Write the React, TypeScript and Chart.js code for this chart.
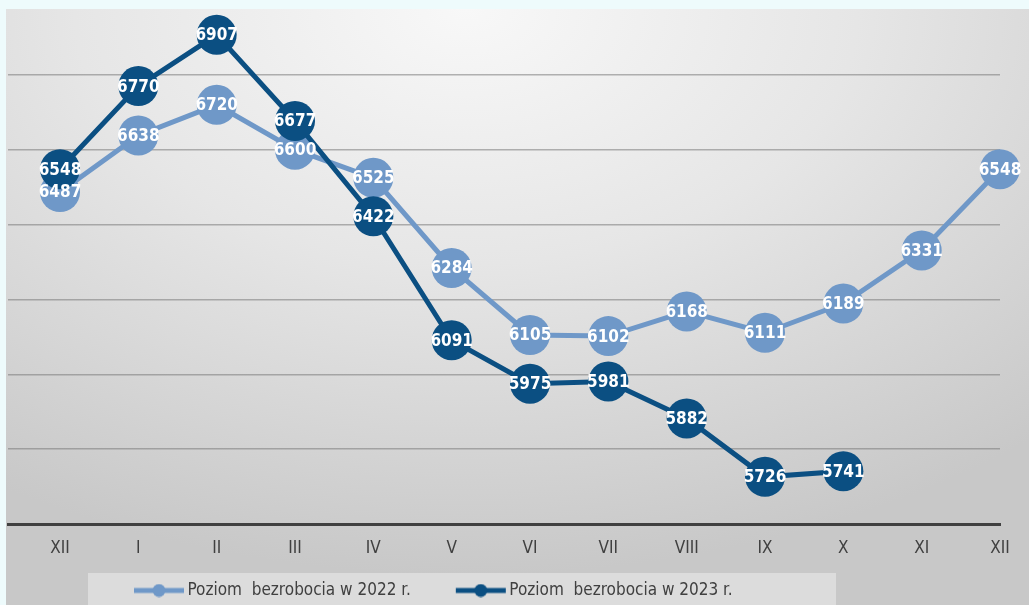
import React, { useEffect, useRef } from 'react';
import { Chart, registerables } from 'chart.js';

Chart.register(...registerables);

const months = ['XII', 'I', 'II', 'III', 'IV', 'V', 'VI', 'VII', 'VIII', 'IX', 'X', 'XI', 'XII'];
const values2022: (number | null)[] = [6487, 6638, 6720, 6600, 6525, 6284, 6105, 6102, 6168, 6111, 6189, 6331, 6548];
const values2023: (number | null)[] = [6548, 6770, 6907, 6677, 6422, 6091, 5975, 5981, 5882, 5726, 5741, null, null];
const seriesNames = ['Poziom  bezrobocia w 2022 r.', 'Poziom  bezrobocia w 2023 r.'];
const yMin = 5600;
const yMax = 6976;
const yStep = 200;

const LIGHT = '#6f98c8';
const DARK = '#0b4f82';
const FONT = "'DejaVu Sans Condensed', 'DejaVu Sans', sans-serif";
const LEGEND_PAD = 50;

function makeMarker(color: string): HTMLCanvasElement {
  const c = document.createElement('canvas');
  c.width = 52;
  c.height = 14;
  const g = c.getContext('2d')!;
  g.strokeStyle = color;
  g.lineWidth = 5;
  g.beginPath();
  g.moveTo(1, 7);
  g.lineTo(51, 7);
  g.stroke();
  g.fillStyle = color;
  g.beginPath();
  g.arc(26, 7, 6.5, 0, Math.PI * 2);
  g.fill();
  return c;
}

const valueLabels = {
  id: 'valueLabels',
  afterDatasetsDraw(chart: any) {
    const ctx = chart.ctx;
    ctx.save();
    ctx.font = `bold 17px ${FONT}`;
    ctx.fillStyle = '#ffffff';
    ctx.textAlign = 'center';
    ctx.textBaseline = 'middle';
    chart.data.datasets.forEach((ds: any, di: number) => {
      const meta = chart.getDatasetMeta(di);
      meta.data.forEach((el: any, i: number) => {
        const raw = ds.data[i];
        if (!raw || raw.y == null || el.skip) return;
        ctx.fillText(String(raw.y), el.x, el.y + 1);
      });
    });
    ctx.restore();
  },
};

const legendBox = {
  id: 'legendBox',
  beforeDraw(chart: any) {
    const lg = chart.legend;
    if (!lg) return;
    const ctx = chart.ctx;
    ctx.save();
    ctx.fillStyle = '#dcdcdc';
    ctx.fillRect(88, 573, 748, 32);
    ctx.restore();
    lg.left = 139 - LEGEND_PAD;
    lg.right = 1029;
    lg.width = lg.right - lg.left;
    lg.top = 582 - LEGEND_PAD;
  },
};

export default function App() {
  const ref = useRef<HTMLCanvasElement>(null);

  useEffect(() => {
    if (!ref.current) return;
    const toPoints = (arr: (number | null)[]) => arr.map((v, i) => ({ x: i, y: v }));
    const markers = [makeMarker(LIGHT), makeMarker(DARK)];
    const chart = new Chart(ref.current, {
      type: 'line',
      data: {
        datasets: [
          {
            label: seriesNames[0],
            data: toPoints(values2022) as any,
            borderColor: LIGHT,
            backgroundColor: LIGHT,
            pointBackgroundColor: LIGHT,
            pointBorderColor: LIGHT,
            borderWidth: 5,
            pointRadius: 20,
            pointHoverRadius: 20,
            pointBorderWidth: 0,
            tension: 0,
            clip: false as any,
            order: 1,
          },
          {
            label: seriesNames[1],
            data: toPoints(values2023) as any,
            borderColor: DARK,
            backgroundColor: DARK,
            pointBackgroundColor: DARK,
            pointBorderColor: DARK,
            borderWidth: 5,
            pointRadius: 20,
            pointHoverRadius: 20,
            pointBorderWidth: 0,
            tension: 0,
            spanGaps: false,
            clip: false as any,
            order: 0,
          },
        ],
      },
      options: {
        animation: false,
        responsive: false,
        devicePixelRatio: 1,
        layout: { autoPadding: false, padding: { left: 8, right: 29, top: 9, bottom: 0 } },
        plugins: {
          tooltip: { enabled: false },
          legend: {
            display: true,
            position: 'bottom',
            align: 'start',
            maxHeight: 32,
            labels: {
              color: '#404040',
              font: { family: FONT, size: 17 },
              usePointStyle: true,
              pointStyleWidth: 40,
              boxHeight: 14,
              padding: LEGEND_PAD,
              sort: (a: any, b: any) => a.datasetIndex - b.datasetIndex,
              generateLabels: (ch: any) => {
                const items = (Chart.defaults.plugins.legend.labels as any).generateLabels(ch);
                return items.map((it: any) => ({ ...it, pointStyle: markers[it.datasetIndex], lineWidth: 0 }));
              },
            },
          },
        },
        scales: {
          x: {
            type: 'linear',
            min: -0.664,
            max: 12,
            grid: { display: false, drawTicks: false },
            border: { display: true, color: '#404040', width: 3 },
            ticks: {
              stepSize: 1,
              padding: 14,
              color: '#404040',
              font: { family: FONT, size: 17 },
              autoSkip: false,
              maxRotation: 0,
              callback: (v: any) => (Number.isInteger(v) && months[v] !== undefined ? months[v] : ''),
            },
            afterBuildTicks: (s: any) => {
              s.ticks = months.map((_, i) => ({ value: i }));
            },
            afterFit: (s: any) => {
              const lh = s.chart.legend ? s.chart.legend.height : 0;
              s.height = 605 - 524 - lh;
              s.paddingLeft = 0;
              s.paddingRight = 0;
            },
          },
          y: {
            type: 'linear',
            min: yMin,
            max: yMax,
            grid: { color: 'rgba(120,120,120,0.55)', lineWidth: 1.5, drawTicks: false },
            border: { display: false },
            ticks: { display: false, stepSize: yStep },
            afterBuildTicks: (s: any) => {
              const t = [];
              for (let v = yMin; v <= yMax; v += yStep) t.push({ value: v });
              s.ticks = t;
            },
            afterFit: (s: any) => {
              s.width = 0;
              s.paddingTop = 0;
              s.paddingBottom = 0;
            },
          },
        },
      },
      plugins: [legendBox, valueLabels],
    });
    return () => chart.destroy();
  }, []);

  return (
    <div style={{ position: 'absolute', left: 0, top: 0, width: 1029, height: 605, background: '#eefbfc', overflow: 'hidden' }}>
      <div
        style={{
          position: 'absolute',
          left: 6,
          top: 9,
          right: 0,
          bottom: 0,
          background: 'radial-gradient(ellipse 85% 95% at 45% 0%, #f8f8f8 0%, #e6e6e6 45%, #c8c8c8 100%)',
        }}
      />
      <canvas ref={ref} width={1029} height={605} style={{ position: 'absolute', left: 0, top: 0, width: 1029, height: 605 }} />
    </div>
  );
}
